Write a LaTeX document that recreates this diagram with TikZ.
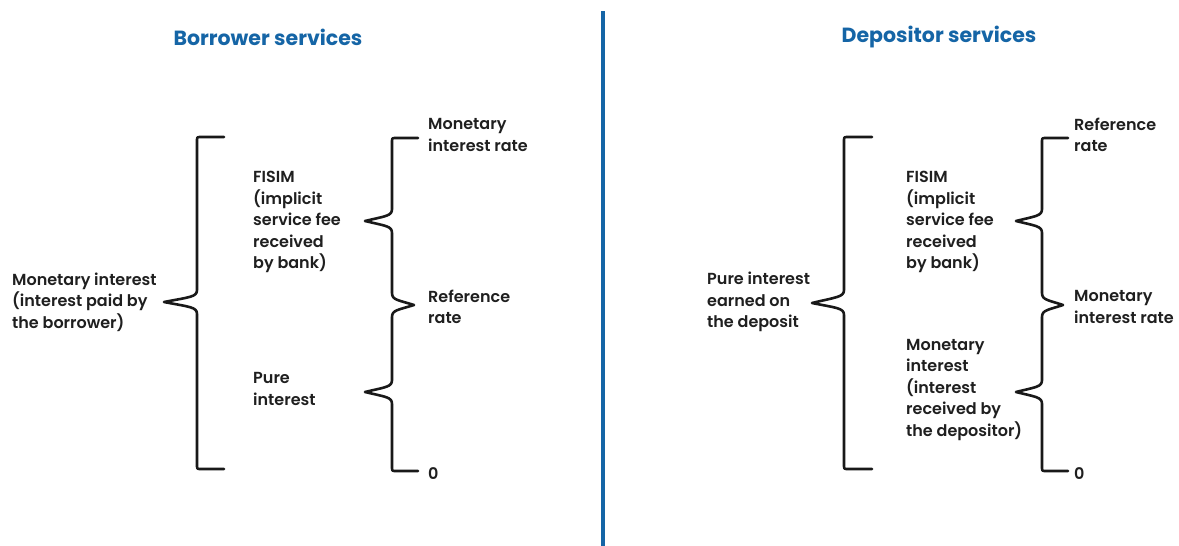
\documentclass[tikz,border=0pt]{standalone}
\usepackage{fontspec}
\setmainfont{Poppins}[UprightFont=* SemiBold, BoldFont=* Bold]
\definecolor{bankblue}{HTML}{1565A6}
\tikzset{
  brace/.style={line width=2.6pt, line join=round, line cap=round, black!90},
  lbl/.style={anchor=west, align=left, inner sep=0pt, text=black!88, font=\fontsize{16}{21.5}\selectfont},
  ttl/.style={font=\fontsize{20.5}{22}\selectfont\bfseries, text=bankblue, inner sep=0pt},
}
\begin{document}
\begin{tikzpicture}[x=1pt,y=-1pt]
\useasboundingbox (0,0) rectangle (1179,546);
\fill[white] (0,0) rectangle (1179,546);

% divider between the two panels
\draw[bankblue, line width=4pt] (603,11) -- (603,546);

% titles
\node[ttl] (tb) at (268,37) {Borrower services};
\node[ttl] (td) at (939,37) {Depositor services};

% ---------- borrower side ----------
% big brace
\draw[brace] (224,137) -- (201,137) .. controls (197,137) .. (197,141)
  -- (197,290) .. controls (197,297) and (190,297) .. (164,302)
  .. controls (190,307) and (197,307) .. (197,314)
  -- (197,465) .. controls (197,469) .. (201,469) -- (224,469);
% double brace of rates
\draw[brace] (418,138) -- (396,138) .. controls (392,138) .. (392,142)
  -- (392,209) .. controls (392,216) and (386,216) .. (365,221)
  .. controls (386,226) and (392,226) .. (392,233)
  -- (392,293) .. controls (392,300) and (398,300) .. (414,305)
  .. controls (398,310) and (392,310) .. (392,317)
  -- (392,380) .. controls (392,387) and (386,387) .. (365,392)
  .. controls (386,397) and (392,397) .. (392,404)
  -- (392,467) .. controls (392,471) .. (396,471) -- (418,471);

\node[lbl] (bmi) at (12,302) {Monetary interest\\(interest paid by\\the borrower)};
\node[lbl] (bfisim) at (253,222) {FISIM\\(implicit\\service fee\\received\\by bank)};
\node[lbl] (bpure) at (253,389) {Pure\\interest};
\node[lbl] (bmir) at (428,135) {Monetary\\interest rate};
\node[lbl] (brr) at (428,307) {Reference\\rate};
\node[lbl] (bzero) at (428,474) {0};

% ---------- depositor side ----------
\draw[brace] (872,137) -- (848,137) .. controls (844,137) .. (844,141)
  -- (844,290) .. controls (844,297) and (837,297) .. (812,303)
  .. controls (837,308) and (844,308) .. (844,315)
  -- (844,465) .. controls (844,469) .. (848,469) -- (872,469);
\draw[brace] (1068,138) -- (1046,138) .. controls (1042,138) .. (1042,142)
  -- (1042,209) .. controls (1042,216) and (1036,216) .. (1016,221)
  .. controls (1036,226) and (1042,226) .. (1042,233)
  -- (1042,293) .. controls (1042,300) and (1048,300) .. (1063,305)
  .. controls (1048,310) and (1042,310) .. (1042,317)
  -- (1042,380) .. controls (1042,387) and (1036,387) .. (1016,392)
  .. controls (1036,397) and (1042,397) .. (1042,404)
  -- (1042,467) .. controls (1042,471) .. (1046,471) -- (1068,471);

\node[lbl] (dpure) at (707,302) {Pure interest\\earned on\\the deposit};
\node[lbl] (dfisim) at (906,222) {FISIM\\(implicit\\service fee\\received\\by bank)};
\node[lbl] (dmi) at (906,390) {Monetary\\interest\\(interest\\received by\\the depositor)};
\node[lbl] (drr) at (1074,135) {Reference\\rate};
\node[lbl] (dmir) at (1074,307) {Monetary\\interest rate};
\node[lbl] (dzero) at (1074,474) {0};
\end{tikzpicture}
\end{document}
